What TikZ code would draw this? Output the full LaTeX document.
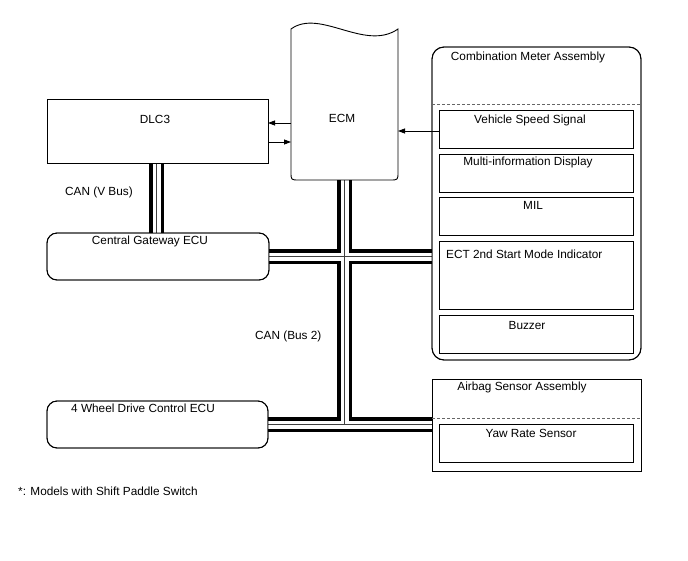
\documentclass[tikz,border=0pt]{standalone}
\usepackage{fontspec}
\setmainfont{Liberation Sans}
\usetikzlibrary{arrows.meta,calc}
\begin{document}
\begin{tikzpicture}[x=1pt,y=-1pt,
  boxline/.style={draw=black, line width=0.9pt},
  box/.style={boxline, rectangle, inner sep=0pt, outer sep=0pt},
  rbox/.style={box, rounded corners=10pt},
  lbl/.style={font=\fontsize{11.8}{14}\selectfont, inner sep=0pt, text=black},
  busA/.style={draw=black, line width=15.5pt},
  busB/.style={draw=white, line width=8pt},
  busC/.style={draw=black!75, line width=0.9pt},
  sep/.style={draw=black!60, line width=0.9pt, dash pattern=on 3pt off 2pt},
  sig/.style={draw=black, line width=0.8pt, -{Triangle[length=7pt,width=5pt]}}
]
\fill[white] (0,0) rectangle (688,560);
\useasboundingbox (0,0) rectangle (688,560);

% box nodes
\node[box, minimum width=221pt, minimum height=64pt] (dlc) at (157.5,131) {};
\node[rbox, minimum width=222pt, minimum height=47pt] (cgw) at (158,256.5) {};
\node[rbox, minimum width=221pt, minimum height=47pt] (wd) at (157.5,424.5) {};
\node[inner sep=0pt, outer sep=0pt, minimum width=107pt, minimum height=151pt] (ecm) at (344.5,104.5) {};
\node[box, rounded corners=12pt, minimum width=209pt, minimum height=313pt] (meter) at (536.5,203.5) {};
\node[box, minimum width=194pt, minimum height=38pt] (vss) at (536,129) {};
\node[box, minimum width=194pt, minimum height=38pt] (mid) at (536,173) {};
\node[box, minimum width=194pt, minimum height=38pt] (mil) at (536,216) {};
\node[box, minimum width=194pt, minimum height=68pt] (ect) at (536,275) {};
\node[box, minimum width=194pt, minimum height=38pt] (buz) at (536,334) {};
\node[box, minimum width=209pt, minimum height=92pt] (airbag) at (536.5,425) {};
\node[box, minimum width=194pt, minimum height=38pt] (yaw) at (536,443) {};

% CAN buses, drawn in layers
\foreach \st in {busA,busB,busC}{
  \draw[\st] ($(dlc.south)+(-1,0)$) -- ($(cgw.north)+(-1.5,0)$)
    (ecm.south) -- (ecm.south |- wd.east)
    (cgw.east) -- (cgw.east -| meter.west)
    (wd.east) -- (wd.east -| airbag.west);
}

% redraw borders on top
\draw[boxline, rounded corners=10pt] (cgw.north west) rectangle (cgw.south east);
\draw[boxline, rounded corners=10pt] (wd.north west) rectangle (wd.south east);
\draw[boxline] (dlc.north west) rectangle (dlc.south east);
\draw[boxline, rounded corners=12pt] (meter.north west) rectangle (meter.south east);
\draw[boxline] (airbag.north west) rectangle (airbag.south east);

% ECM outline with wavy top
\draw[boxline] (ecm.north west) .. controls +(29,-21) and +(-33,23) .. (ecm.north east)
  -- ($(ecm.south east)+(0,-8)$) .. controls (ecm.south east) .. ($(ecm.south east)+(-8,0)$)
  -- ($(ecm.south west)+(8,0)$) .. controls (ecm.south west) .. ($(ecm.south west)+(0,-8)$)
  -- cycle;

% dashed separators
\draw[sep] (meter.west |- 0,104) -- (meter.east |- 0,104);
\draw[sep] (airbag.west |- 0,418) -- (airbag.east |- 0,418);

% signal arrows
\draw[sig] (ecm.west |- 0,123) -- (dlc.east |- 0,123);
\draw[sig] (dlc.east |- 0,142) -- (ecm.west |- 0,142);
\draw[sig] (vss.west |- 0,131) -- (ecm.east |- 0,131);

% texts
\node[lbl] (tdlc) at (155,119) {DLC3};
\node[lbl] (tecm) at (342,118) {ECM};
\node[lbl] (tcgw) at (150,241) {Central Gateway ECU};
\node[lbl] (twd) at (143,408) {4 Wheel Drive Control ECU};
\node[lbl, anchor=west] (tvbus) at (65,192) {CAN (V Bus)};
\node[lbl, anchor=west] (tbus2) at (255,336) {CAN (Bus 2)};
\node[lbl] (tmeter) at (528,57) {Combination Meter Assembly};
\node[lbl] (tvss) at (530,120) {Vehicle Speed Signal};
\node[lbl] (tmid) at (528,162) {Multi-information Display};
\node[lbl] (tmil) at (533,205) {MIL};
\node[lbl, anchor=west] (tect) at (446,254) {ECT 2nd Start Mode Indicator};
\node[lbl] (tbuz) at (527,325) {Buzzer};
\node[lbl] (tairbag) at (522,387) {Airbag Sensor Assembly};
\node[lbl] (tyaw) at (531,433) {Yaw Rate Sensor};
\node[lbl, anchor=west] (tnote) at (18,491) {*: Models with Shift Paddle Switch};
\end{tikzpicture}
\end{document}
